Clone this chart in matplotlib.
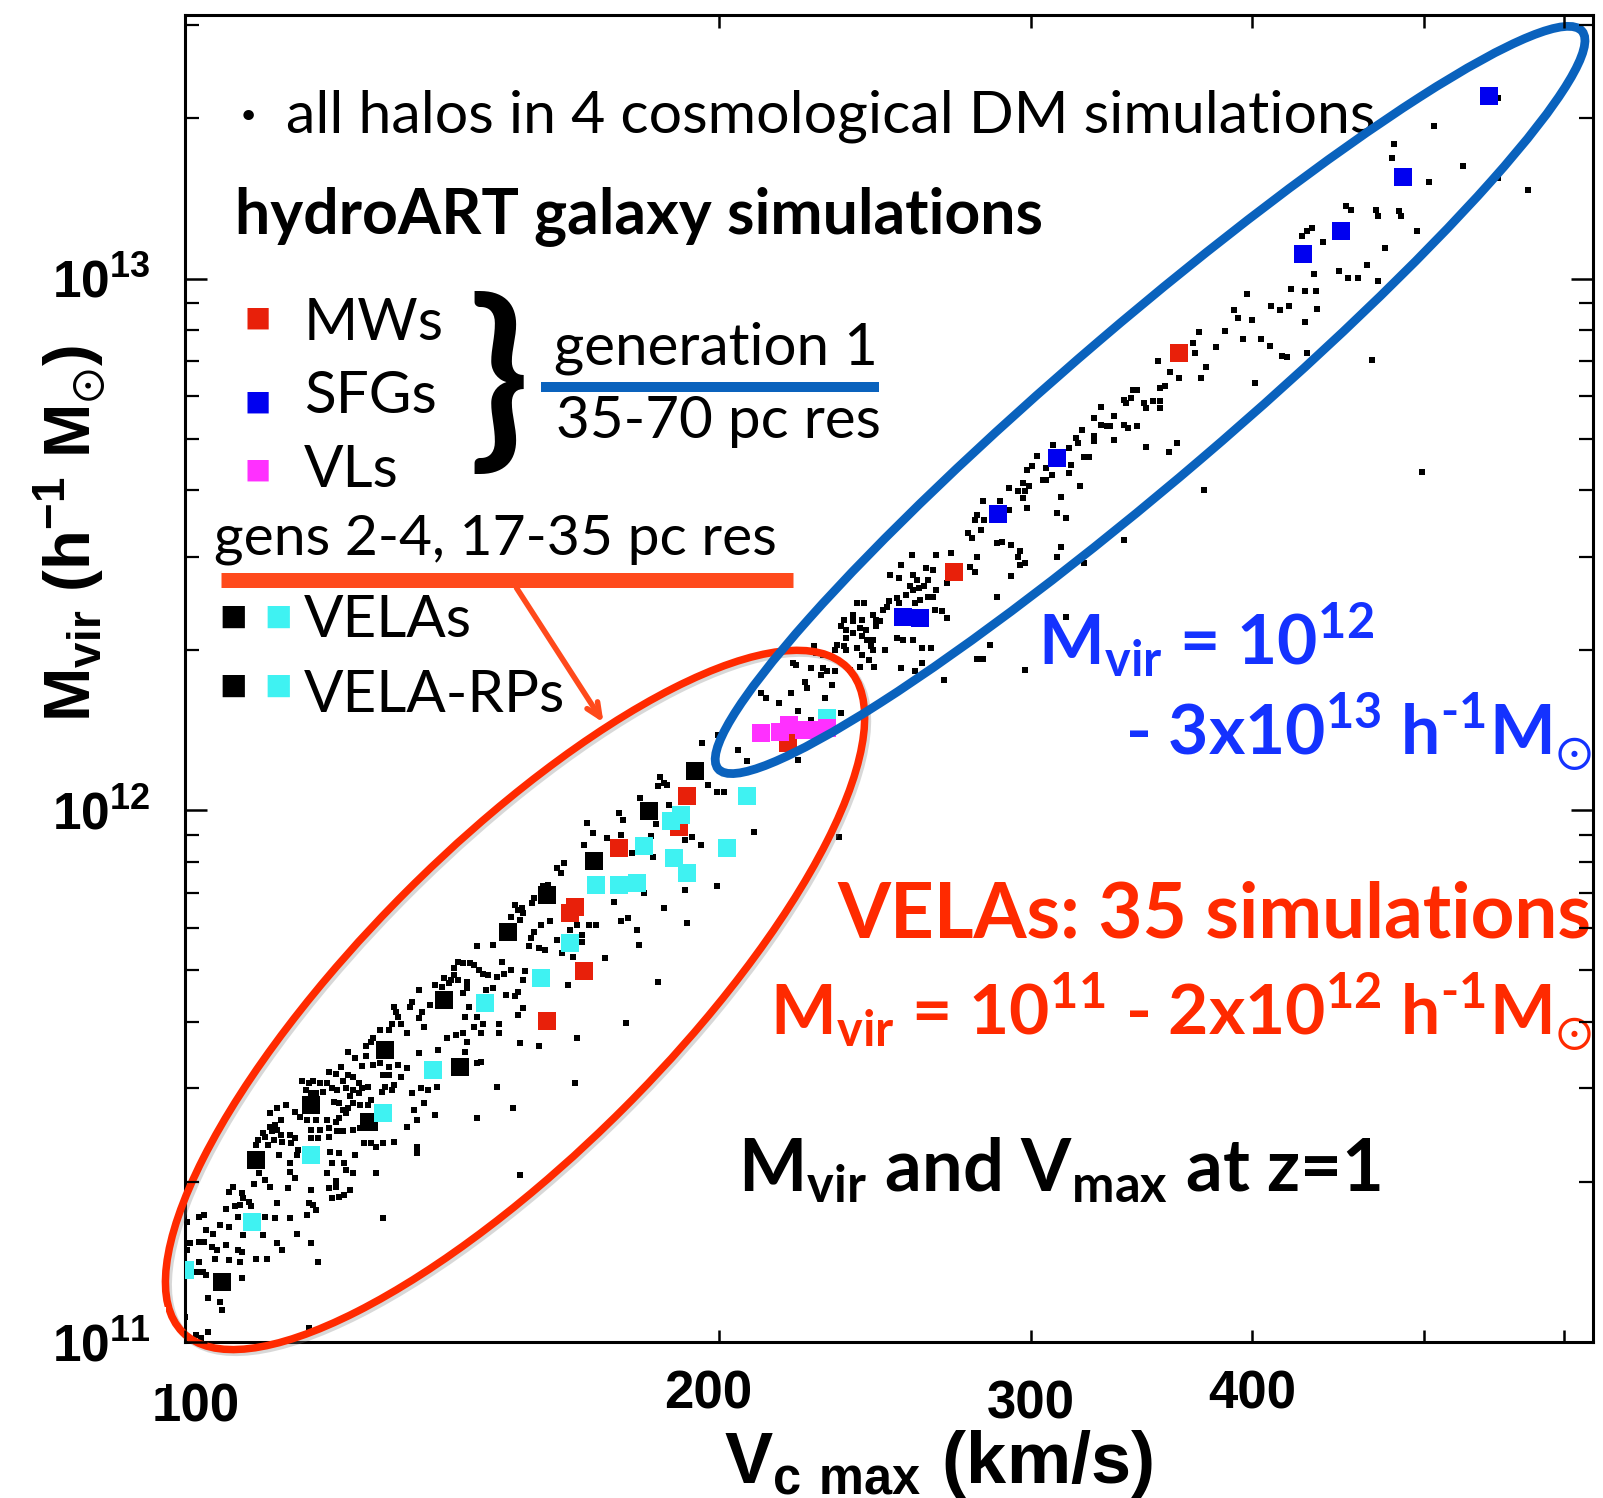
import matplotlib
matplotlib.use("Agg")
import matplotlib.pyplot as plt
import matplotlib.patheffects as pe
from matplotlib.patches import Ellipse
from matplotlib.ticker import LogLocator, NullLocator, NullFormatter
from matplotlib.transforms import ScaledTranslation
import numpy as np

plt.rcParams['font.family'] = ['Lato', 'DejaVu Sans']
plt.rcParams['mathtext.fontset'] = 'custom'
plt.rcParams['mathtext.rm'] = 'Lato'
plt.rcParams['mathtext.it'] = 'DejaVu Sans:bold'   # only used for the sun symbol
plt.rcParams['mathtext.sf'] = 'Lato:bold'
plt.rcParams['mathtext.bf'] = 'Liberation Sans:bold'

# ---- data: log10 Vmax [km/s], log10 Mvir [h^-1 Msun]
# all halos in the 4 DM-only boxes
halo_log_vmax = [
    2.092, 2.096, 2.102, 2.106, 2.100, 2.110, 2.115, 2.120, 2.125, 2.132,
    2.088, 2.085, 2.081, 2.089, 2.092, 2.095, 2.098, 2.083, 2.086, 2.091,
    2.095, 2.100, 2.080, 2.076, 2.072, 2.070, 2.066, 2.068, 2.071, 2.074,
    2.078, 2.084, 2.087, 2.089, 2.092, 2.095, 2.099, 2.103, 2.105, 2.111,
    2.113, 2.117, 2.118, 2.122, 2.128, 2.133, 2.137, 2.142, 2.135, 2.141,
    2.129, 2.131, 2.125, 2.112, 2.115, 2.103, 2.098, 2.093, 2.057, 2.052,
    2.048, 2.062, 2.065, 2.069, 2.074, 2.080, 2.085, 2.087, 2.091, 2.054,
    2.051, 2.048, 2.044, 2.045, 2.049, 2.052, 2.054, 2.059, 2.062, 2.071,
    2.076, 2.081, 2.086, 2.089, 2.095, 2.099, 2.081, 2.075, 2.071, 2.041,
    2.040, 2.047, 2.050, 2.055, 2.060, 2.064, 2.053, 2.042, 2.059, 2.063,
    2.082, 2.087, 2.090, 2.096, 2.101, 2.105, 2.108, 2.112, 2.118, 2.131,
    2.131, 2.108, 2.083, 2.080, 2.085, 2.091, 2.095, 2.059, 2.062, 2.042,
    2.045, 2.048, 2.039, 2.027, 2.025, 2.032, 2.033, 2.036, 2.031, 2.037,
    2.028, 2.023, 2.052, 2.058, 2.071, 2.070, 2.072, 2.074, 2.069, 2.081,
    2.085, 2.087, 2.090, 2.093, 2.083, 2.112, 2.008, 2.011, 2.001, 2.012,
    2.016, 2.020, 2.025, 2.030, 2.045, 2.051, 2.059, 2.063, 2.044, 2.033,
    2.008, 2.011, 2.003, 2.001, 2.015, 2.018, 2.023, 2.030, 2.032, 2.052,
    2.055, 2.046, 2.040, 2.031, 2.025, 2.017, 2.008, 2.010, 2.007, 2.012,
    2.032, 2.071, 2.075, 2.013, 2.020, 2.021, 2.000, 2.006, 2.009, 2.013,
    2.214, 2.210, 2.212, 2.205, 2.202, 2.197, 2.196, 2.186, 2.188, 2.190,
    2.191, 2.184, 2.189, 2.201, 2.206, 2.197, 2.195, 2.210, 2.200, 2.203,
    2.194, 2.221, 2.228, 2.232, 2.217, 2.224, 2.224, 2.213, 2.219, 2.237,
    2.165, 2.174, 2.179, 2.184, 2.180, 2.176, 2.171, 2.168, 2.166, 2.154,
    2.157, 2.161, 2.163, 2.152, 2.152, 2.150, 2.146, 2.154, 2.159, 2.192,
    2.191, 2.174, 2.170, 2.159, 2.157, 2.141, 2.145, 2.149, 2.132, 2.128,
    2.127, 2.118, 2.119, 2.120, 2.117, 2.122, 2.125, 2.115, 2.134, 2.138,
    2.132, 2.135, 2.158, 2.160, 2.165, 2.163, 2.168, 2.177, 2.177, 2.188,
    2.186, 2.181, 2.191, 2.188, 2.189, 2.200, 2.216, 2.221, 2.220, 2.176,
    2.185, 2.165, 2.167, 2.165, 2.148, 2.153, 2.157, 2.159, 2.143, 2.158,
    2.167, 2.110, 2.106, 2.102, 2.105,
    2.292, 2.301, 2.312, 2.317, 2.268, 2.270, 2.267, 2.272, 2.257, 2.245,
    2.247, 2.227, 2.230, 2.225, 2.238, 2.246, 2.263, 2.266, 2.273, 2.286,
    2.291, 2.295, 2.300, 2.304, 2.282, 2.264, 2.252, 2.321, 2.300, 2.282,
    2.283, 2.270, 2.259, 2.255, 2.256, 2.250, 2.246, 2.242,
    2.410, 2.424, 2.432, 2.404, 2.418, 2.422, 2.398, 2.403, 2.411, 2.413,
    2.419, 2.409, 2.411, 2.414, 2.417, 2.424, 2.430, 2.407, 2.402, 2.397,
    2.403, 2.412, 2.415, 2.419, 2.422, 2.396, 2.394, 2.423, 2.427, 2.430,
    2.379, 2.383, 2.377, 2.372, 2.377, 2.382, 2.388, 2.390, 2.392, 2.390,
    2.384, 2.381, 2.370, 2.373, 2.377, 2.373, 2.382, 2.385, 2.388, 2.368,
    2.372, 2.373, 2.367, 2.379, 2.382, 2.387, 2.388, 2.395, 2.402, 2.405,
    2.411, 2.416, 2.421, 2.386, 2.389, 2.404, 2.416, 2.412, 2.428, 2.355,
    2.356, 2.360, 2.343, 2.345, 2.353, 2.360, 2.362, 2.367, 2.359, 2.375,
    2.381, 2.350, 2.351, 2.365, 2.361, 2.325, 2.328, 2.335, 2.342, 2.346,
    2.353, 2.370, 2.346,
    2.572, 2.569, 2.570, 2.549, 2.556, 2.561, 2.553, 2.550, 2.535, 2.537,
    2.534, 2.530, 2.531, 2.541, 2.542, 2.546, 2.550, 2.550, 2.517, 2.513,
    2.524, 2.517, 2.520, 2.522, 2.530, 2.532, 2.537, 2.506, 2.503, 2.504,
    2.513, 2.513, 2.524, 2.490, 2.499, 2.507, 2.510, 2.542, 2.555, 2.560,
    2.481, 2.478, 2.475, 2.486, 2.500, 2.499, 2.489, 2.484, 2.486, 2.465,
    2.473, 2.476, 2.474, 2.470, 2.505, 2.450, 2.460, 2.465, 2.475, 2.473,
    2.494, 2.492, 2.497, 2.447, 2.446, 2.451, 2.530, 2.494, 2.492, 2.507,
    2.442, 2.444, 2.449, 2.458, 2.461, 2.466, 2.471, 2.470, 2.471, 2.474,
    2.466, 2.458, 2.447, 2.443, 2.446,
    2.741, 2.705, 2.682, 2.681, 2.721, 2.702, 2.741, 2.758, 2.655, 2.658,
    2.672, 2.673, 2.685, 2.686, 2.695, 2.636, 2.633, 2.630, 2.642, 2.677,
    2.667, 2.651, 2.656, 2.662, 2.673, 2.637, 2.624, 2.632, 2.638, 2.599,
    2.592, 2.613, 2.618, 2.623, 2.639, 2.594, 2.602, 2.632, 2.587, 2.597,
    2.607, 2.612, 2.582, 2.619, 2.622, 2.633, 2.670, 2.604,
    2.698, 2.575, 2.369, 2.474, 2.447, 2.450, 2.454, 2.497, 2.249, 2.189,
    2.070, 2.267, 2.576, 2.573,
]
halo_log_mvir = [
    11.546, 11.534, 11.537, 11.521, 11.519, 11.524, 11.518, 11.521, 11.515, 11.543,
    11.518, 11.505, 11.508, 11.490, 11.502, 11.499, 11.487, 11.477, 11.474, 11.477,
    11.474, 11.477, 11.487, 11.487, 11.490, 11.487, 11.490, 11.474, 11.468, 11.468,
    11.471, 11.452, 11.449, 11.436, 11.440, 11.449, 11.446, 11.446, 11.455, 11.471,
    11.480, 11.474, 11.483, 11.499, 11.468, 11.477, 11.474, 11.480, 11.449, 11.427,
    11.436, 11.418, 11.405, 11.502, 11.502, 11.480, 11.468, 11.462, 11.446, 11.440,
    11.430, 11.433, 11.424, 11.418, 11.418, 11.418, 11.414, 11.421, 11.430, 11.418,
    11.408, 11.405, 11.393, 11.386, 11.396, 11.399, 11.389, 11.389, 11.383, 11.399,
    11.399, 11.402, 11.396, 11.396, 11.399, 11.402, 11.386, 11.383, 11.383, 11.380,
    11.371, 11.371, 11.380, 11.377, 11.374, 11.361, 11.352, 11.349, 11.336, 11.352,
    11.358, 11.355, 11.336, 11.352, 11.374, 11.374, 11.367, 11.374, 11.377, 11.367,
    11.355, 11.317, 11.336, 11.317, 11.302, 11.324, 11.317, 11.320, 11.308, 11.317,
    11.305, 11.292, 11.298, 11.292, 11.283, 11.280, 11.270, 11.264, 11.258, 11.255,
    11.255, 11.251, 11.261, 11.289, 11.286, 11.261, 11.258, 11.248, 11.239, 11.289,
    11.292, 11.273, 11.277, 11.286, 11.270, 11.233, 11.236, 11.239, 11.226, 11.211,
    11.204, 11.220, 11.217, 11.236, 11.236, 11.233, 11.233, 11.204, 11.201, 11.201,
    11.189, 11.189, 11.186, 11.173, 11.179, 11.173, 11.182, 11.173, 11.170, 11.186,
    11.173, 11.157, 11.157, 11.151, 11.154, 11.157, 11.151, 11.132, 11.132, 11.126,
    11.120, 11.186, 11.151, 11.082, 11.076, 11.060, 11.048, 11.013, 11.007, 11.019,
    11.900, 11.891, 11.882, 11.860, 11.857, 11.835, 11.825, 11.822, 11.813, 11.816,
    11.806, 11.800, 11.794, 11.784, 11.791, 11.772, 11.759, 11.756, 11.741, 11.737,
    11.744, 11.784, 11.784, 11.784, 11.775, 11.766, 11.753, 11.731, 11.725, 11.722,
    11.744, 11.747, 11.715, 11.700, 11.693, 11.687, 11.690, 11.693, 11.700, 11.715,
    11.712, 11.712, 11.709, 11.703, 11.690, 11.681, 11.684, 11.681, 11.678, 11.697,
    11.681, 11.665, 11.662, 11.665, 11.656, 11.672, 11.668, 11.675, 11.662, 11.640,
    11.631, 11.631, 11.621, 11.612, 11.599, 11.599, 11.581, 11.587, 11.621, 11.634,
    11.609, 11.593, 11.612, 11.631, 11.612, 11.593, 11.599, 11.599, 11.581, 11.659,
    11.650, 11.653, 11.628, 11.615, 11.562, 11.556, 11.672, 11.571, 11.487, 11.480,
    11.440, 11.421, 11.527, 11.524, 11.571, 11.577, 11.581, 11.565, 11.549, 11.546,
    11.581, 11.587, 11.571, 11.556, 11.565,
    12.126, 12.142, 12.114, 12.092, 12.063, 12.051, 12.045, 12.048, 12.023, 11.994,
    11.982, 11.976, 11.957, 11.935, 11.947, 11.954, 11.951, 11.974, 12.010, 11.949,
    11.935, 12.048, 12.035, 12.035, 11.944, 11.913, 11.919, 11.960, 11.857, 11.850,
    11.788, 11.816, 11.844, 11.775, 11.747, 11.797, 11.791, 11.828,
    12.480, 12.480, 12.483, 12.462, 12.455, 12.452, 12.443, 12.436, 12.443, 12.433,
    12.433, 12.421, 12.415, 12.418, 12.421, 12.415, 12.427, 12.405, 12.399, 12.393,
    12.389, 12.389, 12.396, 12.402, 12.402, 12.383, 12.377, 12.377, 12.374, 12.361,
    12.389, 12.389, 12.368, 12.358, 12.355, 12.358, 12.368, 12.358, 12.355, 12.346,
    12.339, 12.342, 12.346, 12.339, 12.333, 12.324, 12.327, 12.320, 12.320, 12.311,
    12.308, 12.302, 12.302, 12.305, 12.292, 12.308, 12.302, 12.302, 12.324, 12.320,
    12.320, 12.305, 12.305, 12.283, 12.270, 12.267, 12.277, 12.261, 12.245, 12.308,
    12.295, 12.292, 12.277, 12.273, 12.267, 12.267, 12.261, 12.261, 12.255, 12.264,
    12.270, 12.242, 12.230, 12.236, 12.211, 12.220, 12.211, 12.201, 12.220, 12.186,
    12.170, 12.183, 12.095,
    12.900, 12.879, 12.860, 12.844, 12.825, 12.813, 12.797, 12.794, 12.791, 12.791,
    12.775, 12.772, 12.766, 12.766, 12.756, 12.769, 12.769, 12.756, 12.759, 12.737,
    12.742, 12.725, 12.722, 12.722, 12.725, 12.719, 12.722, 12.716, 12.700, 12.690,
    12.703, 12.694, 12.697, 12.687, 12.681, 12.665, 12.665, 12.684, 12.673, 12.690,
    12.667, 12.647, 12.640, 12.643, 12.650, 12.634, 12.631, 12.621, 12.621, 12.606,
    12.615, 12.609, 12.600, 12.600, 12.609, 12.581, 12.581, 12.565, 12.568, 12.587,
    12.590, 12.559, 12.549, 12.556, 12.546, 12.546, 12.509, 12.496, 12.477, 12.465,
    12.521, 12.512, 12.527, 12.502, 12.505, 12.499, 12.487, 12.477, 12.462, 12.465,
    12.440, 12.402, 12.477, 12.458, 12.449,
    13.339, 13.286, 13.252, 13.227, 13.211, 13.181, 13.189, 13.166, 13.136, 13.129,
    13.129, 13.117, 13.126, 13.117, 13.090, 13.095, 13.089, 13.079, 13.068, 13.057,
    13.026, 13.015, 13.001, 13.001, 12.996, 13.009, 12.981, 12.976, 12.976, 12.971,
    12.941, 12.948, 12.941, 12.949, 12.942, 12.926, 12.922, 12.918, 12.902, 12.887,
    12.886, 12.874, 12.871, 12.855, 12.852, 12.860, 12.847, 12.803,
    12.637, 12.603, 11.950, 12.264, 12.285, 12.285, 12.311, 12.364, 11.600, 11.314,
    11.026, 11.677, 12.834, 12.813,
]

# hydroART generation 1
mw_log_vmax = [2.561, 2.434, 2.283, 2.245, 2.279, 2.220, 2.217, 2.225, 2.204, 2.340]
mw_log_mvir = [12.860, 12.449, 12.027, 11.929, 11.969, 11.819, 11.806, 11.697, 11.603, 12.126]
sfg_log_vmax = [2.736, 2.687, 2.652, 2.631, 2.492, 2.459, 2.405, 2.415]
sfg_log_mvir = [13.344, 13.190, 13.090, 13.047, 12.662, 12.557, 12.364, 12.361]
vl_log_vmax = [2.325, 2.336, 2.341, 2.349, 2.356, 2.362]
vl_log_mvir = [12.145, 12.148, 12.161, 12.151, 12.151, 12.154]

# VELA runs (gens 2-4)
vela_k_log_vmax = [2.071, 2.104, 2.040, 2.021, 2.113, 2.231, 2.204, 2.182, 2.146, 2.155,
                   2.288, 2.262]
vela_k_log_mvir = [11.446, 11.414, 11.342, 11.113, 11.550, 11.904, 11.841, 11.772, 11.643,
                   11.518, 12.073, 11.998]
vela_c_log_vmax = [2.071, 2.112, 2.038, 2.000, 2.140, 2.232, 2.217, 2.201, 2.169, 2.317,
                   2.280, 2.274, 2.259, 2.276, 2.283, 2.306, 2.255, 2.245, 2.362]
vela_c_log_mvir = [11.352, 11.430, 11.226, 11.135, 11.512, 11.860, 11.750, 11.684, 11.637,
                   12.027, 11.991, 11.979, 11.933, 11.910, 11.882, 11.929, 11.863, 11.860,
                   12.173]

x_ticks = [100, 200, 300, 400, 500, 600]
x_ticklabels = ['100', '200', '300', '400', '', '']
y_ticks = [1e11, 1e12, 1e13]
y_ticklabels = [r'$\mathbf{10^{11}}$', r'$\mathbf{10^{12}}$', r'$\mathbf{10^{13}}$']

RED = '#ff2a00'
BLUE_TXT = '#1432ff'
BLUE_RING = '#0a62bd'
ORANGE = '#ff4a1c'
SQ_RED = '#e8200a'
SQ_BLUE = '#0000f0'
SQ_CYAN = '#3ff2f2'
SQ_MAG = '#ff30ff'
TICKFONT = ['Liberation Sans', 'DejaVu Sans']
SUN = '$_{\\mathit{\u2299}}$'
HM1 = 'h$^{\\mathsf{\u20101}}$'

fig = plt.figure(figsize=(16.03, 14.98), dpi=100, facecolor='white')
ax = fig.add_axes([0.1154, 0.1041, 0.8784, 0.8859])
ax.set_xscale('log')
ax.set_yscale('log')


def lin(a):
    return 10 ** np.asarray(a)


ax.scatter(lin(halo_log_vmax), lin(halo_log_mvir), s=15, marker='s', c='black',
           linewidths=0, zorder=2)
sq = dict(s=150, marker='s', linewidths=0, zorder=3)
ax.scatter(lin(vela_k_log_vmax), lin(vela_k_log_mvir), c='black', **sq)
ax.scatter(lin(mw_log_vmax), lin(mw_log_mvir), c=SQ_RED, **sq)
ax.scatter(lin(vela_c_log_vmax), lin(vela_c_log_mvir), c=SQ_CYAN, **sq)
ax.scatter(lin(sfg_log_vmax), lin(sfg_log_mvir), c=SQ_BLUE, **sq)
ax.scatter(lin(vl_log_vmax), lin(vl_log_mvir), c=SQ_MAG, **sq)

ax.set_xlim(100, 623)
ax.set_ylim(1e11, 3.13e13)

# axes / ticks
for sp in ax.spines.values():
    sp.set_linewidth(2.2)
ax.set_xticks(x_ticks)
ax.set_xticklabels(x_ticklabels, fontsize=38, fontweight='bold', family=TICKFONT)
ax.xaxis.set_minor_locator(NullLocator())
ax.set_yticks(y_ticks)
ax.set_yticklabels(y_ticklabels, fontsize=37, family=TICKFONT)
ax.yaxis.set_minor_locator(LogLocator(base=10, subs=range(2, 10)))
ax.yaxis.set_minor_formatter(NullFormatter())
ax.tick_params(axis='x', which='major', direction='in', length=9, width=1.8,
               top=True, pad=20)
ax.tick_params(axis='y', which='major', direction='in', length=16, width=1.8,
               right=True, pad=25)
ax.tick_params(axis='y', which='minor', direction='in', length=10, width=1.6,
               right=True)
xt = ax.xaxis.get_major_ticks()
xt[0].set_pad(29)
xt[2].set_pad(27)
xt[0].label1.set_transform(xt[0].label1.get_transform()
                           + ScaledTranslation(11 / 100, 0, fig.dpi_scale_trans))
xt[1].label1.set_transform(xt[1].label1.get_transform()
                           + ScaledTranslation(-10 / 100, 0, fig.dpi_scale_trans))
ax.xaxis.set_zorder(5)
ax.yaxis.set_zorder(5)
ax.get_yticklabels()[0].set_bbox(dict(facecolor='white', edgecolor='none', pad=11))
xt[0].label1.set_bbox(dict(facecolor='white', edgecolor='none', pad=14))

# axis titles
ax.text(-0.082, 0.609, r'M$_{\mathbf{vir}}$ (h$^{\mathbf{-1}}$ M' + SUN + ')',
        transform=ax.transAxes, rotation=90, ha='center', va='center',
        fontsize=47, fontweight='bold', family=TICKFONT)
ax.text(0.535, -0.106, r'V$_{\mathbf{c\ max}}$ (km/s)', transform=ax.transAxes,
        ha='center', va='baseline', fontsize=52, fontweight='bold', family=TICKFONT)


# ellipses (drawn in inches so they stay true ellipses on screen)
def ring(center_axes, w_in, h_in, angle, color, lw, shadow=False):
    cx, cy = ax.transAxes.transform(center_axes)
    e = Ellipse((cx / fig.dpi, cy / fig.dpi), w_in, h_in, angle=angle,
                transform=fig.dpi_scale_trans, fill=False, edgecolor=color,
                linewidth=lw, zorder=4, clip_on=False)
    if shadow:
        e.set_path_effects([pe.SimpleLineShadow(offset=(2, -2), shadow_color='gray',
                                                alpha=0.3), pe.Normal()])
    ax.add_artist(e)


ring((0.2344, 0.2578), 9.40, 3.07, 45.0, RED, 5.4, shadow=True)
ring((0.6854, 0.7099), 11.36, 1.56, 40.5, BLUE_RING, 6.3)

# legend-like annotations
T = ax.transAxes
ax.text(0.0447, 0.9246, '\u00b7', transform=T, ha='center', va='center', fontsize=40,
        fontweight='bold')
ax.text(0.0717, 0.9118, 'all halos in 4 cosmological DM simulations', transform=T,
        fontsize=42.5, va='baseline')
ax.text(0.0355, 0.8357, 'hydroART galaxy simulations', transform=T, fontsize=45,
        fontweight='bold', va='baseline')
for yy, label in [(0.7551, 'MWs'), (0.7001, 'SFGs'), (0.6443, 'VLs')]:
    ax.text(0.0845, yy, label, transform=T, fontsize=42, va='baseline')
for yy, col in [(0.7717, SQ_RED), (0.7084, SQ_BLUE), (0.6571, SQ_MAG)]:
    ax.text(0.0515, yy, '\u25a0', transform=T, fontsize=20, color=col, ha='center',
            va='center', family='DejaVu Sans')
ax.text(0.2230, 0.7210, '}', transform=T, fontsize=142, fontweight='bold',
        ha='center', va='center')
ax.text(0.2621, 0.7363, 'generation 1', transform=T, fontsize=42, va='baseline')
ax.plot([0.2528, 0.4929], [0.7197, 0.7197], transform=T, color=BLUE_RING, lw=7.2,
        solid_capstyle='butt', clip_on=False)
ax.text(0.2635, 0.6812, '35-70 pc res', transform=T, fontsize=42, va='baseline')

ax.text(0.0206, 0.5931, 'gens 2-4, 17-35 pc res', transform=T, fontsize=41,
        va='baseline')
ax.plot([0.0256, 0.4318], [0.5742, 0.5742], transform=T, color=ORANGE, lw=10.8,
        solid_capstyle='butt', clip_on=False)
ax.annotate('', xy=(0.2983, 0.4650), xytext=(0.2344, 0.5700), xycoords='axes fraction',
            arrowprops=dict(arrowstyle='->,head_length=1.0,head_width=0.45',
                            color=ORANGE, lw=4))
for yy, label in [(0.5313, 'VELAs'), (0.4748, 'VELA-RPs')]:
    ax.text(0.0845, yy, label, transform=T, fontsize=42, va='baseline')
for yy in (0.5463, 0.4944):
    ax.text(0.0341, yy, '\u25a0', transform=T, fontsize=21, color='black', ha='center',
            va='center', family='DejaVu Sans')
    ax.text(0.0661, yy, '\u25a0', transform=T, fontsize=21, color=SQ_CYAN, ha='center',
            va='center', family='DejaVu Sans')

# range annotations
ax.text(0.6058, 0.5102, r'M$_{\mathsf{vir}}$ = 10$^{\mathsf{12}}$', transform=T,
        fontsize=50, fontweight='bold', color=BLUE_TXT, va='baseline')
ax.text(0.9993, 0.4424, r'- 3x10$^{\mathsf{13}}$ ' + HM1 + 'M' + SUN,
        transform=T, fontsize=50, fontweight='bold', color=BLUE_TXT, va='baseline',
        ha='right')
ax.text(0.9990, 0.3052, 'VELAs: 35 simulations', transform=T, fontsize=55,
        fontweight='bold', color=RED, va='baseline', ha='right')
ax.text(0.9990, 0.2313,
        r'M$_{\mathsf{vir}}$ = 10$^{\mathsf{11}}$ - 2x10$^{\mathsf{12}}$ ' + HM1 + 'M' + SUN,
        transform=T, fontsize=50, fontweight='bold', color=RED, va='baseline', ha='right')
ax.text(0.3928, 0.1145, r'M$_{\mathsf{vir}}$ and V$_{\mathsf{max}}$ at z=1', transform=T,
        fontsize=52, fontweight='bold', color='black', va='baseline')

fig.savefig('out.png', dpi=100, facecolor='white')
